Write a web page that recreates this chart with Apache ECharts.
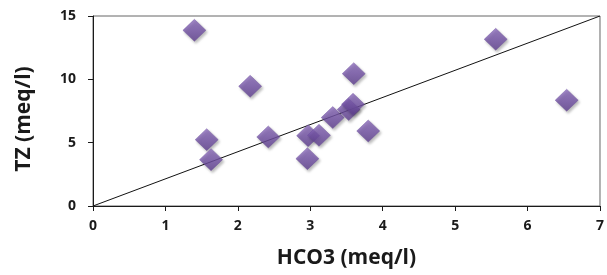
<!DOCTYPE html>
<html>
<head>
<meta charset="utf-8">
<script src="https://cdn.jsdelivr.net/npm/echarts@6/dist/echarts.min.js"></script>
<style>html,body{margin:0;padding:0;background:#fff}#c{width:607px;height:275px}</style>
</head>
<body>
<div id="c"></div>
<script>
const hco3 = [1.40, 2.17, 1.57, 1.63, 2.42, 2.96, 2.97, 3.12, 3.31, 3.53, 3.59, 3.60, 3.80, 5.56, 6.54];
const tz   = [13.87, 9.45, 5.24, 3.66, 5.45, 3.74, 5.55, 5.58, 6.98, 7.61, 8.03, 10.45, 5.92, 13.16, 8.35];
const refLineX = [0, 7];
const refLineY = [0, 15];
const xTicks = [0, 1, 2, 3, 4, 5, 6, 7];
const yTicks = [0, 5, 10, 15];

const points = hco3.map((v, i) => [v, tz[i]]);
const refLine = refLineX.map((v, i) => [v, refLineY[i]]);

const chart = echarts.init(document.getElementById('c'), null, {renderer: 'canvas'});
const fontFam = '"Open Sans", "Liberation Sans", sans-serif';
chart.setOption({
  animation: false,
  grid: {left: 93, right: 6, top: 16, bottom: 69, show: true, borderColor: '#666', borderWidth: 1, backgroundColor: 'transparent'},
  xAxis: {
    type: 'value', min: xTicks[0], max: xTicks[xTicks.length - 1], interval: 1,
    name: 'HCO3 (meq/l)', nameLocation: 'middle', nameGap: 42,
    nameTextStyle: {fontFamily: fontFam, fontWeight: 'bold', fontSize: 21, color: '#1a1a1a'},
    axisLine: {lineStyle: {color: '#1a1a1a', width: 1}},
    axisTick: {show: true, length: 5, lineStyle: {color: '#1a1a1a'}},
    axisLabel: {fontFamily: fontFam, fontWeight: 'bold', fontSize: 14, color: '#1a1a1a', margin: 13},
    splitLine: {show: false}
  },
  yAxis: {
    type: 'value', min: yTicks[0], max: yTicks[yTicks.length - 1], interval: 5,
    name: 'TZ (meq/l)', nameLocation: 'middle', nameGap: 58, nameRotate: 90,
    nameTextStyle: {fontFamily: fontFam, fontWeight: 'bold', fontSize: 21, color: '#1a1a1a', padding: [0, 16, 0, 0]},
    axisLine: {show: true, lineStyle: {color: '#1a1a1a', width: 1}},
    axisTick: {show: true, length: 5, lineStyle: {color: '#1a1a1a'}},
    axisLabel: {fontFamily: fontFam, fontWeight: 'bold', fontSize: 14, color: '#1a1a1a', margin: 17},
    splitLine: {show: false}
  },
  series: [
    {
      type: 'line', data: refLine, showSymbol: false, symbol: 'none',
      lineStyle: {color: '#111', width: 1}, z: 1, silent: true
    },
    {
      type: 'scatter', data: points, symbol: 'diamond', symbolSize: [23, 22], z: 2,
      itemStyle: {
        color: new echarts.graphic.LinearGradient(0, 0, 0, 1, [
          {offset: 0, color: '#8c6cbc'},
          {offset: 0.5, color: '#7554a8'},
          {offset: 1, color: '#5e3f8e'}
        ]),
        borderColor: '#6a4b9c', borderWidth: 0.5,
        shadowBlur: 3, shadowOffsetX: 1.5, shadowOffsetY: 2, shadowColor: 'rgba(0,0,0,0.35)'
      }
    }
  ]
});
</script>
</body>
</html>
